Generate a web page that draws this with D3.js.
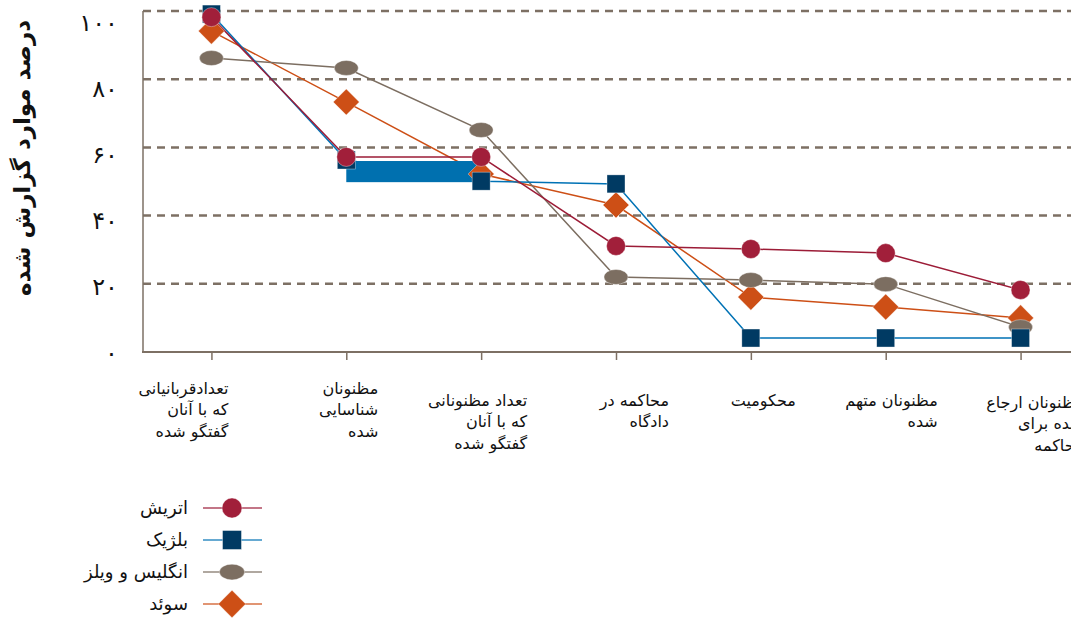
<!DOCTYPE html>
<html>
<head>
<meta charset="utf-8">
<script src="https://cdn.jsdelivr.net/npm/d3@7"></script>
<style>
  body { margin: 0; background: #fff; }
  text { font-family: "DejaVu Sans", sans-serif; fill: #111; }
</style>
</head>
<body>
<div id="chart"></div>
<script>
// Stages of the criminal justice process (categories)
const stages = [
  ["تعدادقربانیانی", "که با آنان", "گفتگو شده"],
  ["مظنونان", "شناسایی", "شده"],
  ["تعداد مظنونانی", "که با آنان", "گفتگو شده"],
  ["محاکمه در", "دادگاه"],
  ["محکومیت"],
  ["مظنونان متهم", "شده"],
  ["مظنونان ارجاع", "شده برای", "محاکمه"]
];

// Percent of reported cases per country
const austria = [98.2, 57.2, 57.2, 31.1, 30.2, 29.0, 18.2];
const belgium = [99.1, 56.3, 50.1, 49.3, 4.1, 4.1, 4.1];
const englandWales = [86.2, 83.3, 65.1, 22.0, 21.1, 19.9, 7.3];
const sweden = [94.1, 73.3, 52.2, 43.1, 16.1, 13.2, 10.0];

const yTicks = [0, 20, 40, 60, 80, 100];
const yTickLabels = ["۰", "۲۰", "۴۰", "۶۰", "۸۰", "۱۰۰"];
const yTitle = "درصد موارد گزارش شده";

// Layout nudges for the wrapped category labels [dx, dy]
const labelNudge = [[17, 0], [32, 0], [46, 12], [53, 12], [45, 12], [52, 12], [63, 14]];

const width = 1071, height = 621;
const svg = d3.select("#chart").append("svg")
    .attr("width", width)
    .attr("height", height);

const x = d3.scalePoint()
    .domain(d3.range(stages.length))
    .range([144, 1088])
    .padding(0.5);

const y = d3.scaleLinear()
    .domain([0, 100])
    .range([352, 11]);

// tick labels sit on a slightly tighter scale than the grid
const yLab = d3.scaleLinear()
    .domain([0, 100])
    .range([353, 23]);

const gridColor = "#7d7064";

// Dashed grid lines
svg.append("g")
  .selectAll("line")
  .data(yTicks.filter(d => d > 0))
  .join("line")
    .attr("x1", 143).attr("x2", width)
    .attr("y1", d => y(d)).attr("y2", d => y(d))
    .attr("stroke", gridColor)
    .attr("stroke-width", 2.5)
    .attr("stroke-dasharray", "8,6");

// Axes
svg.append("line")
    .attr("x1", 143).attr("x2", 143)
    .attr("y1", y(100)).attr("y2", y(0))
    .attr("stroke", gridColor).attr("stroke-width", 1.5);

svg.append("g")
    .attr("transform", `translate(0,${y(0)})`)
    .call(d3.axisBottom(x).tickSize(8).tickFormat(""))
    .call(g => g.select(".domain").remove())
    .call(g => g.selectAll(".tick line").attr("stroke", gridColor).attr("stroke-width", 1.5));

svg.append("line")
    .attr("x1", 142).attr("x2", width)
    .attr("y1", y(0)).attr("y2", y(0))
    .attr("stroke", gridColor).attr("stroke-width", 2);

// Y tick labels
svg.append("g")
  .selectAll("text")
  .data(yTicks)
  .join("text")
    .attr("x", 118)
    .attr("y", d => yLab(d))
    .attr("dy", "0.35em")
    .attr("text-anchor", "end")
    .style("font-size", "24px")
    .text((d, i) => yTickLabels[i]);

// Y title
svg.append("text")
    .attr("transform", "translate(22,158) rotate(-90)")
    .attr("text-anchor", "middle")
    .attr("dy", "0.35em")
    .style("font-size", "23px")
    .style("font-weight", "bold")
    .text(yTitle);

// Category labels
const lab = svg.append("g")
  .selectAll("text")
  .data(stages)
  .join("text")
    .attr("transform", (d, i) => `translate(${x(i) + labelNudge[i][0]},${388 + labelNudge[i][1]})`)
    .attr("text-anchor", "end")
    .style("font-size", "16px");
lab.selectAll("tspan")
  .data(d => d)
  .join("tspan")
    .attr("x", 0)
    .attr("y", (d, i) => i * 21.5)
    .attr("dy", "0.35em")
    .text(d => d);

// Series, drawn bottom to top
const series = [
  {name: "سوئد", values: sweden, line: "#cd4f16", fill: "#cd4f16", shape: "diamond"},
  {name: "انگلیس و ویلز", values: englandWales, line: "#7c6e61", fill: "#7c6e61", shape: "ellipse"},
  {name: "بلژیک", values: belgium, line: "#0072b5", fill: "#003a63", shape: "square"},
  {name: "اتریش", values: austria, line: "#9c1c37", fill: "#a11f3a", shape: "circle"}
];

const line = d3.line()
    .x((d, i) => x(i))
    .y(d => y(d));

svg.append("g")
  .selectAll("path")
  .data(series)
  .join("path")
    .attr("fill", "none")
    .attr("stroke", d => d.line)
    .attr("stroke-width", 1.5)
    .attr("d", d => line(d.values));

// Solid band left on the Belgium segment in the original
svg.append("rect")
    .attr("x", x(1))
    .attr("y", y(belgium[1]) + 1)
    .attr("width", x(2) - x(1) - 4)
    .attr("height", y(belgium[2]) - y(belgium[1]))
    .attr("fill", "#0070af");

function drawMarker(g, shape, fill, scale) {
  const s = scale || 1;
  if (shape === "circle") {
    g.append("circle").attr("r", 9.5 * s).attr("fill", fill);
  } else if (shape === "square") {
    g.append("rect").attr("x", -9 * s).attr("y", -9 * s)
      .attr("width", 18 * s).attr("height", 18 * s).attr("fill", fill);
  } else if (shape === "ellipse") {
    g.append("ellipse").attr("rx", 12 * s).attr("ry", 7.5 * s).attr("fill", fill);
  } else {
    g.append("path").attr("d", d3.symbol(d3.symbolSquare, 340 * s * s))
      .attr("transform", "rotate(45)").attr("fill", fill);
  }
  g.selectAll("*").attr("stroke", "#fff").attr("stroke-width", 0.6).attr("stroke-opacity", 0.6);
}

series.forEach(s => {
  s.values.forEach((v, i) => {
    const g = svg.append("g").attr("transform", `translate(${x(i)},${y(v)})`);
    drawMarker(g, s.shape, s.fill);
  });
});

// Legend
const legendOrder = [3, 2, 1, 0];
legendOrder.forEach((si, k) => {
  const s = series[si];
  const ly = 508 + k * 32;
  svg.append("line")
      .attr("x1", 203).attr("x2", 262)
      .attr("y1", ly).attr("y2", ly)
      .attr("stroke", s.line).attr("stroke-opacity", 0.8).attr("stroke-width", 1.5);
  const g = svg.append("g").attr("transform", `translate(232,${ly})`);
  drawMarker(g, s.shape, s.fill, 1.05);
  svg.append("text")
      .attr("x", 188).attr("y", ly)
      .attr("dy", "0.35em")
      .attr("text-anchor", "end")
      .style("font-size", "18px")
      .text(s.name);
});
</script>
</body>
</html>
